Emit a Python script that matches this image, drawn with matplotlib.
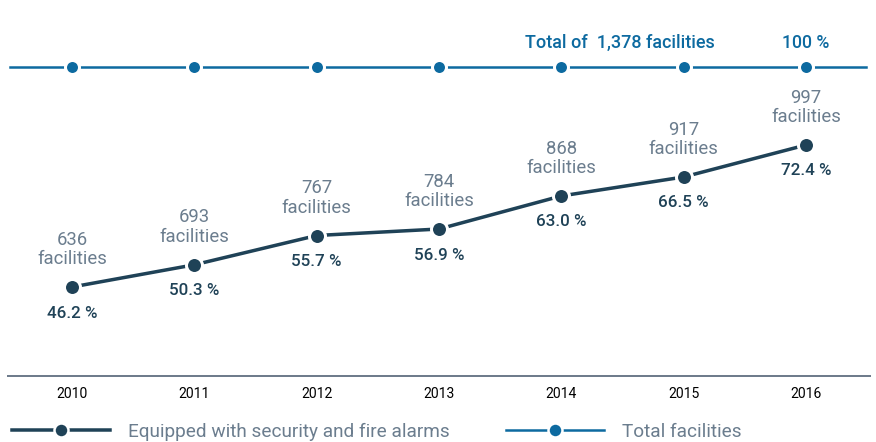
import matplotlib
matplotlib.use("Agg")
import matplotlib.pyplot as plt
from matplotlib.lines import Line2D

years = [2010, 2011, 2012, 2013, 2014, 2015, 2016]
equipped = [636, 693, 767, 784, 868, 917, 997]
equipped_pct = [46.2, 50.3, 55.7, 56.9, 63.0, 66.5, 72.4]
total_facilities = 1378
total_pct = [100, 100, 100, 100, 100, 100, 100]

DARK = "#1f4257"
GRAY = "#6b7d8e"
BLUE = "#0d6aa0"
AXIS = "#6f7c8c"

plt.rcParams['font.family'] = ['Roboto', 'DejaVu Sans']

W, H = 876, 442
fig = plt.figure(figsize=(W / 72, H / 72), dpi=72)
ax = fig.add_axes([0, 0, 1, 1])
ax.set_xlim(2010 - 72 / 122.33, 2016 + 70 / 122.33)
ax.set_ylim(46.2 - 155 / 5.42, 46.2 + 287 / 5.42)
ax.axis('off')

# top (total) line on its own scale
ax2 = ax.twinx()
ax2.set_ylim(0, 100 / ((H - 67) / H))
ax2.axis('off')
ax2.set_xlim(ax.get_xlim())

l_eq, = ax.plot(years, equipped_pct, color=DARK, lw=3.5, marker='o', ms=16,
                mfc=DARK, mec='white', mew=3, solid_capstyle='round',
                label='Equipped with security and fire alarms', zorder=3)

xl = ax.get_xlim()
ax2.plot([xl[0] + 10 / 122.33, xl[1] - 10 / 122.33], [100, 100], color=BLUE, lw=2.5, zorder=2)
l_tot, = ax2.plot(years, total_pct, color=BLUE, lw=0, marker='o', ms=14,
                  mfc=BLUE, mec='white', mew=3, label='Total facilities', zorder=3)

for x, n, p in zip(years, equipped, equipped_pct):
    ax.annotate(f"{n}\nfacilities", (x, p), xytext=(0, 19), textcoords='offset points',
                ha='center', va='bottom', fontsize=18.5, color=GRAY, linespacing=1.1)
    ax.annotate(f"{p:.1f} %", (x, p), xytext=(0, -26), textcoords='offset points',
                ha='center', va='center', fontsize=17, color=DARK, fontweight='medium')

ax2.annotate(f"Total of  {total_facilities:,} facilities", (2014.48, 100), xytext=(0, 24),
             textcoords='offset points', ha='center', va='center', fontsize=18,
             color=BLUE, fontweight='medium')
ax2.annotate("100 %", (2016, 100), xytext=(0, 24), textcoords='offset points',
             ha='center', va='center', fontsize=17.8, color=BLUE, fontweight='medium')

# bottom axis line and year labels
ybase = 46.2 - (376 - 287) / 5.42
ax.axhline(ybase, xmin=8 / W, xmax=870 / W, color=AXIS, lw=2)
for x in years:
    ax.annotate(str(x), (x, ybase), xytext=(0, -18),
                textcoords='offset points', ha='center', va='center', fontsize=14,
                color='black', family=['Liberation Sans Narrow', 'Roboto', 'DejaVu Sans'])

# legend
h1 = Line2D([], [], color=DARK, lw=3.5, marker='o', ms=14, mfc=DARK, mec='white', mew=2.5)
h2 = Line2D([], [], color=BLUE, lw=2.5, marker='o', ms=14, mfc=BLUE, mec='white', mew=2.5)
leg = fig.legend([h1, h2], [l_eq.get_label(), l_tot.get_label()], loc='center left',
                 bbox_to_anchor=(12 / W, 1 - 432 / H), ncol=2, frameon=False,
                 handlelength=5.16, handletextpad=0.95, columnspacing=2.97, fontsize=19,
                 borderaxespad=0, borderpad=0, labelcolor=GRAY, numpoints=1)

fig.savefig("out.png", dpi=72)
